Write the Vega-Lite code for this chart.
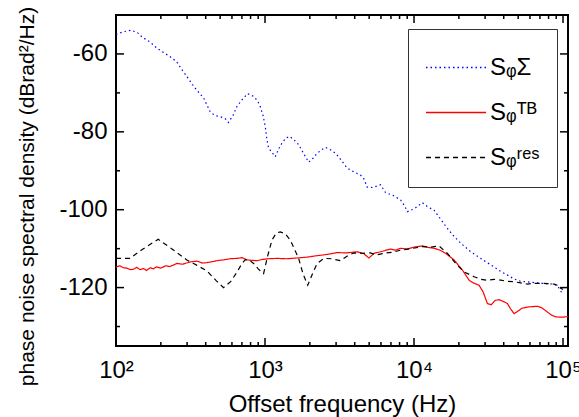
{
 "$schema": "https://vega.github.io/schema/vega-lite/v6.json",
 "width": 452, "height": 331,
 "autosize": {"type": "none"},
 "padding": {"left": 116, "top": 15, "right": 11, "bottom": 71},
 "config": {
  "view": {"stroke": "black", "strokeWidth": 2},
  "font": "Liberation Sans",
  "axis": {"domain": false, "ticks": false, "grid": false, "labelColor": "black", "titleColor": "black", "titleFontWeight": "normal", "labelFont": "Liberation Sans", "titleFont": "Liberation Sans"}
 },
 "datasets": {
  "xmaj": [{"t": 100}, {"t": 1000}, {"t": 10000}, {"t": 100000}],
  "xmin": [{"t": 200}, {"t": 300}, {"t": 400}, {"t": 500}, {"t": 600}, {"t": 700}, {"t": 800}, {"t": 900}, {"t": 2000}, {"t": 3000}, {"t": 4000}, {"t": 5000}, {"t": 6000}, {"t": 7000}, {"t": 8000}, {"t": 9000}, {"t": 20000}, {"t": 30000}, {"t": 40000}, {"t": 50000}, {"t": 60000}, {"t": 70000}, {"t": 80000}, {"t": 90000}],
  "ymaj": [{"t": -120}, {"t": -100}, {"t": -80}, {"t": -60}],
  "ymin": [{"t": -130}, {"t": -110}, {"t": -90}, {"t": -70}],
  "curves": [
  {"s":"Sigma","f":100,"v":-55.0},{"s":"Sigma","f":112,"v":-54.3},{"s":"Sigma","f":127,"v":-53.9},{"s":"Sigma","f":140,"v":-54.6},{"s":"Sigma","f":149,"v":-55.6},{"s":"Sigma","f":170,"v":-57.0},{"s":"Sigma","f":188,"v":-58.5},{"s":"Sigma","f":210,"v":-59.7},{"s":"Sigma","f":237,"v":-61.0},{"s":"Sigma","f":256,"v":-62.1},{"s":"Sigma","f":280,"v":-64.3},{"s":"Sigma","f":299,"v":-65.8},{"s":"Sigma","f":320,"v":-67.4},{"s":"Sigma","f":340,"v":-68.8},{"s":"Sigma","f":387,"v":-71.3},{"s":"Sigma","f":428,"v":-74.8},{"s":"Sigma","f":460,"v":-75.8},{"s":"Sigma","f":500,"v":-76.1},{"s":"Sigma","f":540,"v":-76.6},{"s":"Sigma","f":569,"v":-77.6},{"s":"Sigma","f":610,"v":-75.8},{"s":"Sigma","f":648,"v":-73.5},{"s":"Sigma","f":700,"v":-71.8},{"s":"Sigma","f":764,"v":-70.2},{"s":"Sigma","f":838,"v":-70.9},{"s":"Sigma","f":890,"v":-72.0},{"s":"Sigma","f":929,"v":-73.5},{"s":"Sigma","f":970,"v":-75.8},{"s":"Sigma","f":1004,"v":-78.6},{"s":"Sigma","f":1030,"v":-82.0},{"s":"Sigma","f":1057,"v":-84.2},{"s":"Sigma","f":1100,"v":-85.0},{"s":"Sigma","f":1172,"v":-86.4},{"s":"Sigma","f":1230,"v":-84.5},{"s":"Sigma","f":1300,"v":-82.9},{"s":"Sigma","f":1380,"v":-81.6},{"s":"Sigma","f":1462,"v":-81.2},{"s":"Sigma","f":1560,"v":-82.0},{"s":"Sigma","f":1682,"v":-83.3},{"s":"Sigma","f":1800,"v":-85.3},{"s":"Sigma","f":1963,"v":-87.8},{"s":"Sigma","f":2100,"v":-86.8},{"s":"Sigma","f":2238,"v":-85.5},{"s":"Sigma","f":2400,"v":-84.6},{"s":"Sigma","f":2545,"v":-84.0},{"s":"Sigma","f":2750,"v":-84.6},{"s":"Sigma","f":2972,"v":-85.5},{"s":"Sigma","f":3250,"v":-87.3},{"s":"Sigma","f":3558,"v":-89.3},{"s":"Sigma","f":3950,"v":-90.3},{"s":"Sigma","f":4375,"v":-91.1},{"s":"Sigma","f":4600,"v":-92.0},{"s":"Sigma","f":4850,"v":-94.2},{"s":"Sigma","f":5300,"v":-94.3},{"s":"Sigma","f":5957,"v":-93.6},{"s":"Sigma","f":6438,"v":-95.6},{"s":"Sigma","f":7200,"v":-96.3},{"s":"Sigma","f":8128,"v":-97.5},{"s":"Sigma","f":8700,"v":-99.2},{"s":"Sigma","f":9016,"v":-100.5},{"s":"Sigma","f":10000,"v":-99.8},{"s":"Sigma","f":11380,"v":-98.2},{"s":"Sigma","f":12400,"v":-99.3},{"s":"Sigma","f":13620,"v":-100.1},{"s":"Sigma","f":15000,"v":-102.3},{"s":"Sigma","f":16750,"v":-104.8},{"s":"Sigma","f":18500,"v":-106.8},{"s":"Sigma","f":20590,"v":-108.6},{"s":"Sigma","f":24040,"v":-110.8},{"s":"Sigma","f":28060,"v":-112.5},{"s":"Sigma","f":31000,"v":-113.6},{"s":"Sigma","f":34470,"v":-114.7},{"s":"Sigma","f":38000,"v":-115.8},{"s":"Sigma","f":42400,"v":-116.8},{"s":"Sigma","f":47000,"v":-117.8},{"s":"Sigma","f":52100,"v":-118.4},{"s":"Sigma","f":60000,"v":-118.6},{"s":"Sigma","f":67500,"v":-118.8},{"s":"Sigma","f":76000,"v":-119.0},{"s":"Sigma","f":87300,"v":-119.1},{"s":"Sigma","f":91000,"v":-119.5},{"s":"Sigma","f":94400,"v":-120.2},{"s":"Sigma","f":97000,"v":-121.0},{"s":"Sigma","f":99400,"v":-121.7},
  {"s":"TB","f":100,"v":-114.7},{"s":"TB","f":106,"v":-114.4},{"s":"TB","f":112,"v":-114.9},{"s":"TB","f":118,"v":-115.0},{"s":"TB","f":125,"v":-115.4},{"s":"TB","f":131,"v":-115.3},{"s":"TB","f":138,"v":-114.8},{"s":"TB","f":145,"v":-115.4},{"s":"TB","f":153,"v":-115.1},{"s":"TB","f":160,"v":-115.6},{"s":"TB","f":170,"v":-114.9},{"s":"TB","f":178,"v":-115.2},{"s":"TB","f":187,"v":-114.7},{"s":"TB","f":200,"v":-115.0},{"s":"TB","f":215,"v":-114.4},{"s":"TB","f":230,"v":-114.6},{"s":"TB","f":256,"v":-113.8},{"s":"TB","f":280,"v":-114.0},{"s":"TB","f":315,"v":-113.4},{"s":"TB","f":350,"v":-113.2},{"s":"TB","f":380,"v":-113.7},{"s":"TB","f":407,"v":-113.6},{"s":"TB","f":450,"v":-113.3},{"s":"TB","f":490,"v":-113.0},{"s":"TB","f":527,"v":-112.9},{"s":"TB","f":580,"v":-112.6},{"s":"TB","f":649,"v":-112.5},{"s":"TB","f":700,"v":-112.3},{"s":"TB","f":757,"v":-112.9},{"s":"TB","f":820,"v":-113.0},{"s":"TB","f":884,"v":-113.1},{"s":"TB","f":950,"v":-112.8},{"s":"TB","f":1050,"v":-112.6},{"s":"TB","f":1205,"v":-112.5},{"s":"TB","f":1400,"v":-112.6},{"s":"TB","f":1642,"v":-112.4},{"s":"TB","f":1900,"v":-112.2},{"s":"TB","f":2238,"v":-111.8},{"s":"TB","f":2600,"v":-111.5},{"s":"TB","f":3050,"v":-111.0},{"s":"TB","f":3500,"v":-111.1},{"s":"TB","f":4157,"v":-110.8},{"s":"TB","f":4600,"v":-111.3},{"s":"TB","f":4980,"v":-112.4},{"s":"TB","f":5400,"v":-111.2},{"s":"TB","f":5960,"v":-110.8},{"s":"TB","f":6960,"v":-110.1},{"s":"TB","f":7500,"v":-110.4},{"s":"TB","f":8128,"v":-109.9},{"s":"TB","f":9000,"v":-110.1},{"s":"TB","f":10000,"v":-109.6},{"s":"TB","f":11380,"v":-109.3},{"s":"TB","f":12500,"v":-109.7},{"s":"TB","f":13620,"v":-109.9},{"s":"TB","f":15000,"v":-110.4},{"s":"TB","f":16330,"v":-111.2},{"s":"TB","f":18550,"v":-112.9},{"s":"TB","f":21130,"v":-115.5},{"s":"TB","f":23410,"v":-118.1},{"s":"TB","f":25000,"v":-118.8},{"s":"TB","f":27320,"v":-119.4},{"s":"TB","f":29000,"v":-121.0},{"s":"TB","f":31100,"v":-124.1},{"s":"TB","f":33000,"v":-124.4},{"s":"TB","f":35000,"v":-123.3},{"s":"TB","f":37230,"v":-123.1},{"s":"TB","f":40000,"v":-123.6},{"s":"TB","f":42400,"v":-124.1},{"s":"TB","f":44500,"v":-125.5},{"s":"TB","f":46980,"v":-126.7},{"s":"TB","f":50000,"v":-126.0},{"s":"TB","f":53000,"v":-125.3},{"s":"TB","f":57770,"v":-125.0},{"s":"TB","f":62000,"v":-124.9},{"s":"TB","f":67500,"v":-124.8},{"s":"TB","f":72000,"v":-125.2},{"s":"TB","f":78700,"v":-126.3},{"s":"TB","f":84000,"v":-127.1},{"s":"TB","f":89500,"v":-127.5},{"s":"TB","f":95000,"v":-127.6},{"s":"TB","f":100000,"v":-127.6},{"s":"TB","f":108000,"v":-127.4},
  {"s":"res","f":100,"v":-112.5},{"s":"res","f":124,"v":-112.5},{"s":"res","f":150,"v":-110.2},{"s":"res","f":192,"v":-107.6},{"s":"res","f":240,"v":-110.2},{"s":"res","f":299,"v":-112.9},{"s":"res","f":350,"v":-114.3},{"s":"res","f":407,"v":-115.7},{"s":"res","f":470,"v":-118.2},{"s":"res","f":527,"v":-120.0},{"s":"res","f":590,"v":-118.4},{"s":"res","f":649,"v":-116.0},{"s":"res","f":700,"v":-113.8},{"s":"res","f":738,"v":-112.8},{"s":"res","f":790,"v":-113.0},{"s":"res","f":838,"v":-113.8},{"s":"res","f":900,"v":-115.2},{"s":"res","f":978,"v":-116.4},{"s":"res","f":1040,"v":-112.0},{"s":"res","f":1113,"v":-107.8},{"s":"res","f":1190,"v":-106.0},{"s":"res","f":1265,"v":-105.7},{"s":"res","f":1370,"v":-106.2},{"s":"res","f":1479,"v":-107.8},{"s":"res","f":1580,"v":-110.2},{"s":"res","f":1682,"v":-112.5},{"s":"res","f":1800,"v":-116.5},{"s":"res","f":1936,"v":-119.4},{"s":"res","f":2080,"v":-116.5},{"s":"res","f":2238,"v":-113.8},{"s":"res","f":2478,"v":-112.5},{"s":"res","f":2800,"v":-112.6},{"s":"res","f":3208,"v":-113.1},{"s":"res","f":3600,"v":-111.8},{"s":"res","f":3943,"v":-111.1},{"s":"res","f":4500,"v":-111.2},{"s":"res","f":5090,"v":-111.1},{"s":"res","f":5600,"v":-111.6},{"s":"res","f":6280,"v":-111.2},{"s":"res","f":7200,"v":-110.9},{"s":"res","f":8128,"v":-110.4},{"s":"res","f":9500,"v":-110.0},{"s":"res","f":11380,"v":-109.5},{"s":"res","f":13000,"v":-109.6},{"s":"res","f":14700,"v":-109.3},{"s":"res","f":16750,"v":-111.2},{"s":"res","f":19050,"v":-113.8},{"s":"res","f":21680,"v":-116.0},{"s":"res","f":25320,"v":-117.2},{"s":"res","f":28000,"v":-117.9},{"s":"res","f":31100,"v":-118.1},{"s":"res","f":34500,"v":-117.9},{"s":"res","f":38300,"v":-118.1},{"s":"res","f":42500,"v":-118.4},{"s":"res","f":47000,"v":-118.5},{"s":"res","f":52000,"v":-118.8},{"s":"res","f":57800,"v":-119.1},{"s":"res","f":64000,"v":-118.9},{"s":"res","f":71100,"v":-118.9},{"s":"res","f":79000,"v":-119.0},{"s":"res","f":87300,"v":-119.1},{"s":"res","f":92000,"v":-119.4},{"s":"res","f":96800,"v":-120.2},{"s":"res","f":100000,"v":-120.5}
  ]
 },
 "layer": [
  {
   "data": {"name": "curves"},
   "mark": {"type": "line", "strokeWidth": 1.2},
   "encoding": {
    "x": {"field": "f", "type": "quantitative", "scale": {"type": "log", "domain": [100, 108000], "nice": false},
     "axis": {"orient": "bottom", "values": [100, 1000, 10000, 100000],
      "labelExpr": "datum.value == 100 ? '10²' : datum.value == 1000 ? '10³' : datum.value == 10000 ? '10⁴' : '10⁵'",
      "labelFontSize": 24, "labelBaseline": "alphabetic", "labelPadding": 31, "labelOverlap": false, "labelBound": false, "labelFlush": false,
      "title": "Offset frequency (Hz)", "titleFontSize": 24, "titleBaseline": "alphabetic", "titleY": 65}},
    "y": {"field": "v", "type": "quantitative", "scale": {"domain": [-135, -50], "nice": false, "zero": false},
     "axis": {"orient": "left", "values": [-120, -100, -80, -60],
      "labelExpr": "toString(datum.value)",
      "labelFontSize": 24, "labelPadding": 9, "labelOverlap": false, "labelBound": false, "labelFlush": false,
      "title": "phase noise spectral density (dBrad²/Hz)", "titleFontSize": 21, "titleBaseline": "middle", "titleX": -89, "titleY": 181}},
    "color": {"field": "s", "type": "nominal", "scale": {"domain": ["Sigma", "TB", "res"], "range": ["#0000ff", "#ff0000", "#000000"]},
     "legend": {"orient": "none", "legendX": 292, "legendY": 14, "title": null, "strokeColor": "#333333", "fillColor": "white", "padding": 17, "symbolType": "M-1,0H1.93", "symbolSize": 1681, "symbolStrokeWidth": 1.5, "labelFontSize": 24, "labelFont": "Liberation Sans", "rowPadding": 11, "labelOffset": 22,
      "labelExpr": "datum.value == 'Sigma' ? 'SᵩΣ' : datum.value == 'TB' ? 'Sᵩᵀᴮ' : 'Sᵩʳᵉˢ'"}},
    "strokeDash": {"field": "s", "type": "nominal", "scale": {"domain": ["Sigma", "TB", "res"], "range": [[1.5, 3], [1, 0], [5, 4]]},
     "legend": {"orient": "none", "legendX": 292, "legendY": 14, "title": null, "strokeColor": "#333333", "fillColor": "white", "padding": 17, "symbolType": "M-1,0H1.93", "symbolSize": 1681, "symbolStrokeWidth": 1.5, "labelFontSize": 24, "labelFont": "Liberation Sans", "rowPadding": 11, "labelOffset": 22,
      "labelExpr": "datum.value == 'Sigma' ? 'SᵩΣ' : datum.value == 'TB' ? 'Sᵩᵀᴮ' : 'Sᵩʳᵉˢ'"}}
   }
  },
  {"data": {"name": "xmaj"}, "mark": {"type": "tick", "orient": "vertical", "size": 8, "thickness": 1.5, "color": "black", "opacity": 1, "yOffset": -4},
   "encoding": {"x": {"field": "t", "type": "quantitative"}, "y": {"datum": -135, "type": "quantitative"}}},
  {"data": {"name": "xmin"}, "mark": {"type": "tick", "orient": "vertical", "size": 4, "thickness": 1.5, "color": "black", "opacity": 1, "yOffset": -2},
   "encoding": {"x": {"field": "t", "type": "quantitative"}, "y": {"datum": -135, "type": "quantitative"}}},
  {"data": {"name": "xmaj"}, "mark": {"type": "tick", "orient": "vertical", "size": 8, "thickness": 1.5, "color": "black", "opacity": 1, "yOffset": 4},
   "encoding": {"x": {"field": "t", "type": "quantitative"}, "y": {"datum": -50, "type": "quantitative"}}},
  {"data": {"name": "xmin"}, "mark": {"type": "tick", "orient": "vertical", "size": 4, "thickness": 1.5, "color": "black", "opacity": 1, "yOffset": 2},
   "encoding": {"x": {"field": "t", "type": "quantitative"}, "y": {"datum": -50, "type": "quantitative"}}},
  {"data": {"name": "ymaj"}, "mark": {"type": "tick", "orient": "horizontal", "size": 8, "thickness": 1.5, "color": "black", "opacity": 1, "xOffset": 4},
   "encoding": {"y": {"field": "t", "type": "quantitative"}, "x": {"datum": 100, "type": "quantitative"}}},
  {"data": {"name": "ymin"}, "mark": {"type": "tick", "orient": "horizontal", "size": 4, "thickness": 1.5, "color": "black", "opacity": 1, "xOffset": 2},
   "encoding": {"y": {"field": "t", "type": "quantitative"}, "x": {"datum": 100, "type": "quantitative"}}},
  {"data": {"name": "ymaj"}, "mark": {"type": "tick", "orient": "horizontal", "size": 8, "thickness": 1.5, "color": "black", "opacity": 1, "xOffset": -4},
   "encoding": {"y": {"field": "t", "type": "quantitative"}, "x": {"datum": 108000, "type": "quantitative"}}},
  {"data": {"name": "ymin"}, "mark": {"type": "tick", "orient": "horizontal", "size": 4, "thickness": 1.5, "color": "black", "opacity": 1, "xOffset": -2},
   "encoding": {"y": {"field": "t", "type": "quantitative"}, "x": {"datum": 108000, "type": "quantitative"}}}
 ]
}
